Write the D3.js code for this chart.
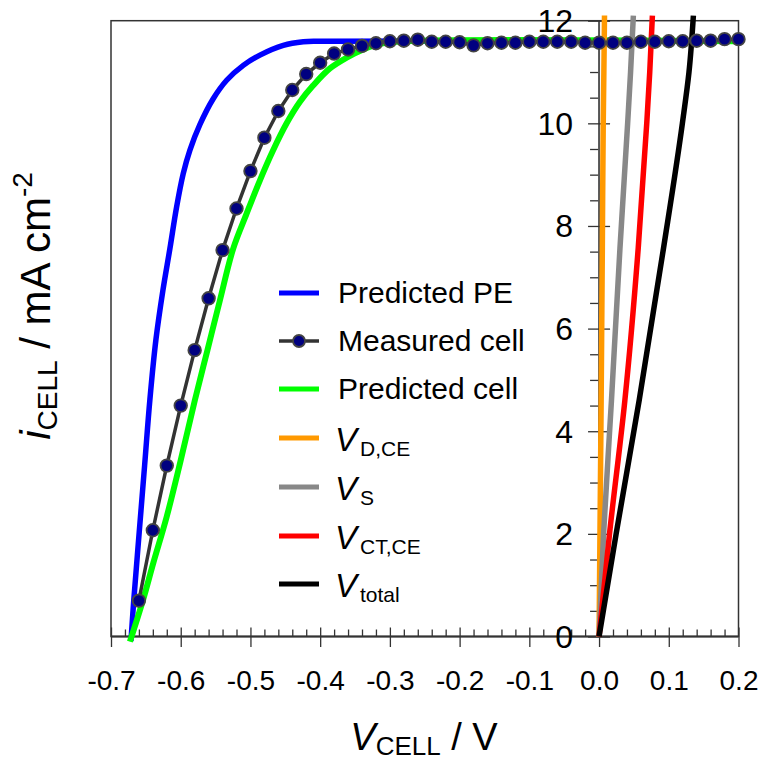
<!DOCTYPE html>
<html>
<head>
<meta charset="utf-8">
<script src="https://cdn.jsdelivr.net/npm/d3@7"></script>
<style>
  html, body { margin: 0; padding: 0; background: #fff; }
  svg { display: block; }
  text { font-family: "Liberation Sans", Arial, Helvetica, sans-serif; fill: #000; }
</style>
</head>
<body>
<svg id="chart" width="760" height="760"></svg>
<script>
// ---- axis ticks ----
const xTicks = [-0.7, -0.6, -0.5, -0.4, -0.3, -0.2, -0.1, 0.0, 0.1, 0.2];
const xTickLabels = ["-0.7", "-0.6", "-0.5", "-0.4", "-0.3", "-0.2", "-0.1", "0.0", "0.1", "0.2"];
const yTicks = [0, 2, 4, 6, 8, 10, 12];
const yTickLabels = ["0", "2", "4", "6", "8", "10", "12"];

// ---- measured cell (V, mA cm-2) ----
const measuredV = [-0.66, -0.64, -0.62, -0.60, -0.58, -0.56, -0.54, -0.52, -0.50, -0.48,
                   -0.46, -0.44, -0.42, -0.40, -0.38, -0.36, -0.34, -0.32, -0.30, -0.28,
                   -0.26, -0.24, -0.22, -0.20, -0.18, -0.16, -0.14, -0.12, -0.10, -0.08,
                   -0.06, -0.04, -0.02, 0.00, 0.02, 0.04, 0.06, 0.08, 0.10, 0.12,
                   0.14, 0.16, 0.18, 0.20];
const measuredI = [0.70, 2.07, 3.33, 4.50, 5.58, 6.59, 7.53, 8.34, 9.07, 9.72,
                   10.24, 10.65, 10.96, 11.18, 11.36, 11.44, 11.51, 11.56, 11.60, 11.61,
                   11.63, 11.59, 11.59, 11.58, 11.52, 11.56, 11.57, 11.57, 11.59, 11.59,
                   11.59, 11.59, 11.57, 11.57, 11.57, 11.57, 11.59, 11.59, 11.60, 11.60,
                   11.61, 11.61, 11.64, 11.64];

// ---- predicted photoelectrode ----
const predPEV = [-0.6714, -0.6673, -0.6596, -0.6518, -0.6442, -0.6356, -0.6255, -0.6155, -0.6059, -0.5964,
                 -0.5868, -0.5724, -0.5534, -0.5341, -0.5103, -0.4864, -0.4529, -0.4242, -0.40, 0.20];
const predPEI = [-0.09, 0.71, 2.02, 3.33, 4.62, 5.78, 6.75, 7.56, 8.37, 9.02,
                 9.48, 9.98, 10.48, 10.84, 11.13, 11.33, 11.52, 11.59, 11.60, 11.60];

// ---- predicted cell ----
const predCellV = [-0.6729, -0.6541, -0.6394, -0.6202, -0.6011, -0.5796, -0.5617, -0.5438, -0.5247, -0.5055,
                   -0.4864, -0.4673, -0.4481, -0.4290, -0.4099, -0.3860, -0.3620, -0.3382, -0.3142, -0.28, 0.20];
const predCellI = [-0.10, 0.71, 1.43, 2.33, 3.37, 4.61, 5.58, 6.55, 7.56, 8.24,
                   8.89, 9.48, 10.00, 10.42, 10.74, 11.07, 11.28, 11.44, 11.55, 11.60, 11.60];

// ---- voltage losses vs current ----
const lossI   = [0, 2, 4.6, 7.57, 10, 11, 12.1];
const vDCE    = [0, 0.0013, 0.0030, 0.0047, 0.0060, 0.0069, 0.0078];
const vS      = [0, 0.0065, 0.0178, 0.0300, 0.0410, 0.0452, 0.0492];
const vCTCE   = [0, 0.0150, 0.0370, 0.0562, 0.0684, 0.0727, 0.0765];
const vTotal  = [0, 0.0245, 0.0575, 0.0925, 0.1195, 0.1290, 0.1353];

const svg = d3.select("#chart");

const plotL = 111, plotR = 738.5, plotT = 20.7, plotB = 636.5;
const x = d3.scaleLinear().domain([-0.7, 0.2]).range([plotL, plotR]);
const y = d3.scaleLinear().domain([0, 12]).range([plotB, plotT]);

const axisColor = "#333";

// frame
svg.append("rect")
  .attr("x", plotL).attr("y", plotT)
  .attr("width", plotR - plotL).attr("height", plotB - plotT)
  .attr("fill", "none").attr("stroke", axisColor).attr("stroke-width", 1.5);

// x axis at i = 0
const xMinor = d3.range(-0.7, 0.2001, 0.02).filter(v => Math.abs(Math.round(v * 10) / 10 - v) > 1e-6);
const gxMinor = svg.append("g")
  .attr("transform", `translate(0,${y(0)})`)
  .call(d3.axisBottom(x).tickValues(xMinor).tickSize(7).tickFormat(""));
gxMinor.select(".domain").remove();
gxMinor.selectAll(".tick line").attr("y1", -7).attr("y2", 0).attr("stroke", axisColor).attr("stroke-width", 1.3);

const gx = svg.append("g")
  .attr("transform", `translate(0,${y(0)})`)
  .call(d3.axisBottom(x).tickValues(xTicks).tickSize(10).tickFormat((d, i) => xTickLabels[i]));
gx.select(".domain").attr("stroke", axisColor).attr("stroke-width", 2).attr("d", `M${plotL},0H${plotR}`);
gx.selectAll(".tick line").attr("y1", -9).attr("y2", 10.5).attr("stroke", axisColor).attr("stroke-width", 1.3);
gx.selectAll(".tick text")
  .attr("y", 53.5).attr("dy", null)
  .style("font-family", "'Liberation Sans', Arial, sans-serif")
  .style("font-size", "28px").attr("fill", "#000");

// y axis at V = 0
const yMinor = d3.range(0, 12.001, 0.5).filter(v => v % 2 !== 0);
const gyMinor = svg.append("g")
  .attr("transform", `translate(${x(0)},0)`)
  .call(d3.axisLeft(y).tickValues(yMinor).tickSize(9).tickFormat(""));
gyMinor.select(".domain").remove();
gyMinor.selectAll(".tick line").attr("stroke", axisColor).attr("stroke-width", 1.3);

const gy = svg.append("g")
  .attr("transform", `translate(${x(0)},0)`)
  .call(d3.axisLeft(y).tickValues(yTicks).tickSize(11).tickFormat((d, i) => yTickLabels[i]));
gy.select(".domain").attr("stroke", "#555").attr("stroke-width", 2).attr("d", `M0,${plotB}V${plotT}`);
gy.selectAll(".tick line").attr("x1", 11).attr("x2", -11).attr("stroke", axisColor).attr("stroke-width", 1.3);
gy.selectAll(".tick text")
  .attr("x", -26).attr("dy", "0.34em")
  .style("font-family", "'Liberation Sans', Arial, sans-serif")
  .style("font-size", "32px").attr("fill", "#000");

// ---- curves ----
const zip = (vs, is) => vs.map((v, k) => [v, is[k]]);
const lineVI = d3.line().x(d => x(d[0])).y(d => y(d[1]));
const smoothVI = d3.line().x(d => x(d[0])).y(d => y(d[1])).curve(d3.curveCatmullRom.alpha(0.5));
const smoothIV = d3.line().x(d => x(d[0])).y(d => y(d[1])).curve(d3.curveMonotoneY);

svg.append("path").datum(zip(predPEV, predPEI))
  .attr("d", smoothVI).attr("fill", "none").attr("stroke", "#0000ff").attr("stroke-width", 5.5);

svg.append("path").datum(zip(predCellV, predCellI))
  .attr("d", smoothVI).attr("fill", "none").attr("stroke", "#00ff00").attr("stroke-width", 6);

const losses = [
  { v: vDCE,   color: "#ff9900" },
  { v: vS,     color: "#888888" },
  { v: vCTCE,  color: "#ff0000" },
  { v: vTotal, color: "#000000" }
];
losses.forEach(s => {
  svg.append("path").datum(zip(s.v, lossI))
    .attr("d", smoothIV).attr("fill", "none").attr("stroke", s.color).attr("stroke-width", 5.5);
});

// measured cell
const measured = zip(measuredV, measuredI);
svg.append("path").datum(measured)
  .attr("d", lineVI).attr("fill", "none").attr("stroke", "#333").attr("stroke-width", 3.5);
svg.append("g").selectAll("circle").data(measured).join("circle")
  .attr("cx", d => x(d[0])).attr("cy", d => y(d[1])).attr("r", 6.3)
  .attr("fill", "#000080").attr("stroke", "#444").attr("stroke-width", 1.8);

// ---- legend ----
const legend = svg.append("g");
const legendRows = [
  { y: 293, color: "#0000ff", label: "Predicted PE" },
  { y: 341, color: "#333333", label: "Measured cell", marker: true },
  { y: 389, color: "#00ff00", label: "Predicted cell" },
  { y: 438, color: "#ff9900", sym: "V", sub: "D,CE" },
  { y: 487, color: "#888888", sym: "V", sub: "S" },
  { y: 536, color: "#ff0000", sym: "V", sub: "CT,CE" },
  { y: 584, color: "#000000", sym: "V", sub: "total" }
];
legendRows.forEach(r => {
  legend.append("line")
    .attr("x1", 279).attr("x2", 319).attr("y1", r.y).attr("y2", r.y)
    .attr("stroke", r.color).attr("stroke-width", r.marker ? 3.5 : 5);
  if (r.marker) {
    legend.append("circle").attr("cx", 299).attr("cy", r.y).attr("r", 6)
      .attr("fill", "#000080").attr("stroke", "#444").attr("stroke-width", 1.8);
  }
  if (r.label) {
    legend.append("text").attr("x", 338).attr("y", r.y + 10)
      .style("font-size", "30px").text(r.label);
  } else {
    const t = legend.append("text").attr("x", 335).attr("y", r.y + 13).style("font-size", "33px");
    t.append("tspan").style("font-style", "italic").text(r.sym);
    t.append("tspan").attr("dx", 3).attr("dy", 5).style("font-size", "21px").text(r.sub);
  }
});

// ---- axis titles ----
const xt = svg.append("text").attr("x", 424).attr("y", 750)
  .attr("text-anchor", "middle").style("font-size", "38px");
xt.append("tspan").style("font-style", "italic").text("V");
xt.append("tspan").attr("dy", 5).style("font-size", "26px").text("CELL");
xt.append("tspan").attr("dy", -5).text(" / V");

const yt = svg.append("text")
  .attr("transform", "translate(50,306) rotate(-90)")
  .attr("text-anchor", "middle").style("font-size", "42px");
yt.append("tspan").style("font-style", "italic").text("i");
yt.append("tspan").attr("dy", 7).style("font-size", "28px").text("CELL");
yt.append("tspan").attr("dy", -7).text(" / mA cm");
yt.append("tspan").attr("dy", -18).style("font-size", "28px").text("-2");
</script>
</body>
</html>
